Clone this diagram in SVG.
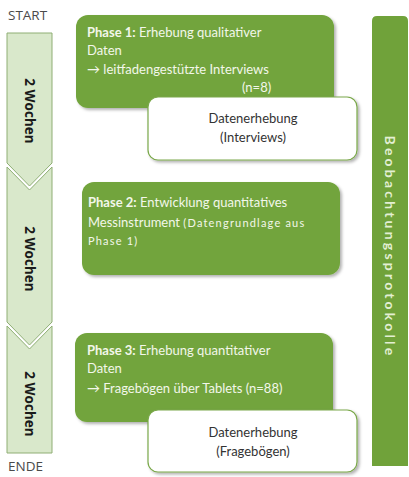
<svg xmlns="http://www.w3.org/2000/svg" width="409" height="477" viewBox="0 0 409 477">
<defs>
<filter id="sh" x="-10%" y="-10%" width="125%" height="130%">
<feDropShadow dx="2" dy="2" stdDeviation="1.5" flood-color="#000" flood-opacity="0.3"/>
</filter>
</defs>
<style>
.chev{fill:#d9e8cb;stroke:#8fae75;stroke-width:1}
.wk{font-family:"Open Sans",sans-serif;font-size:13.5px;font-weight:bold;fill:#1a1a1a;text-anchor:middle}
.se{font-family:"Open Sans",sans-serif;font-size:13.5px;fill:#4a4a4a}
.ph{fill:#72a43c;filter:url(#sh)}
.pt{font-family:Lato,sans-serif;font-size:13px;fill:#f2f7ea}
.pb{font-weight:bold}
.sm{font-size:11px;letter-spacing:1.2px}
.wb{fill:#fff;stroke:#7aa84a;stroke-width:1.2;filter:url(#sh)}
.wt{font-family:Lato,sans-serif;font-size:13px;fill:#333;text-anchor:middle}
.bar{fill:#70a23a}
.bt{font-family:Lato,sans-serif;font-size:14px;font-weight:bold;fill:#e3efd3;letter-spacing:3.2px;text-anchor:middle}
</style>
<text class="se" x="8" y="20">START</text>
<text class="se" x="8" y="471">ENDE</text>
<g id="timeline">
<g id="chev1"><path class="chev" d="M7,33 L52,33 L52,163 L29.5,186 L7,163 Z"/><text class="wk" transform="translate(29.5,111) rotate(90)" dy="0.35em">2 Wochen</text></g>
<g id="chev2"><path class="chev" d="M7,167 L29.5,190 L52,167 L52,322 L29.5,345 L7,322 Z"/><text class="wk" transform="translate(29.5,259) rotate(90)" dy="0.35em">2 Wochen</text></g>
<g id="chev3"><path class="chev" d="M7,326 L29.5,349 L52,326 L52,453 L7,453 Z"/><text class="wk" transform="translate(29.5,404) rotate(90)" dy="0.35em">2 Wochen</text></g>
</g>
<g id="connectors"></g>
<g id="bar"><path class="bar" d="M372,21 Q372,16 377,16 L403,16 Q408,16 408,21 L408,466 L372,466 Z"/><text class="bt" transform="translate(390,247) rotate(90)" dy="0.35em">Beobachtungsprotokolle</text></g>
<g id="phase1"><rect class="ph" x="76" y="15" width="258" height="93" rx="12"/>
<text class="pt" x="87" y="37"><tspan class="pb">Phase 1:</tspan> Erhebung qualitativer</text>
<text class="pt" x="87" y="55">Daten</text>
<text class="pt" x="87" y="74">→ leitfadengestützte Interviews</text>
<text class="pt" x="242" y="92">(n=8)</text></g>
<g id="data1"><rect class="wb" x="148" y="97" width="209" height="63" rx="10"/>
<text class="wt" x="253" y="123">Datenerhebung</text>
<text class="wt" x="253" y="142">(Interviews)</text></g>
<g id="phase2"><rect class="ph" x="82" y="182" width="258" height="93" rx="12"/>
<text class="pt" x="88" y="207"><tspan class="pb">Phase 2:</tspan> Entwicklung quantitatives</text>
<text class="pt" x="88" y="227">Messinstrument <tspan class="sm">(Datengrundlage aus</tspan></text>
<text class="pt sm" x="88" y="245">Phase 1)</text></g>
<g id="phase3"><rect class="ph" x="75" y="333" width="258" height="89" rx="12"/>
<text class="pt" x="87" y="355"><tspan class="pb">Phase 3:</tspan> Erhebung quantitativer</text>
<text class="pt" x="87" y="373">Daten</text>
<text class="pt" x="87" y="393">→  Fragebögen über Tablets (n=88)</text></g>
<g id="data2"><rect class="wb" x="148" y="410" width="209" height="62" rx="10"/>
<text class="wt" x="253" y="437">Datenerhebung</text>
<text class="wt" x="253" y="456">(Fragebögen)</text></g>
</svg>
